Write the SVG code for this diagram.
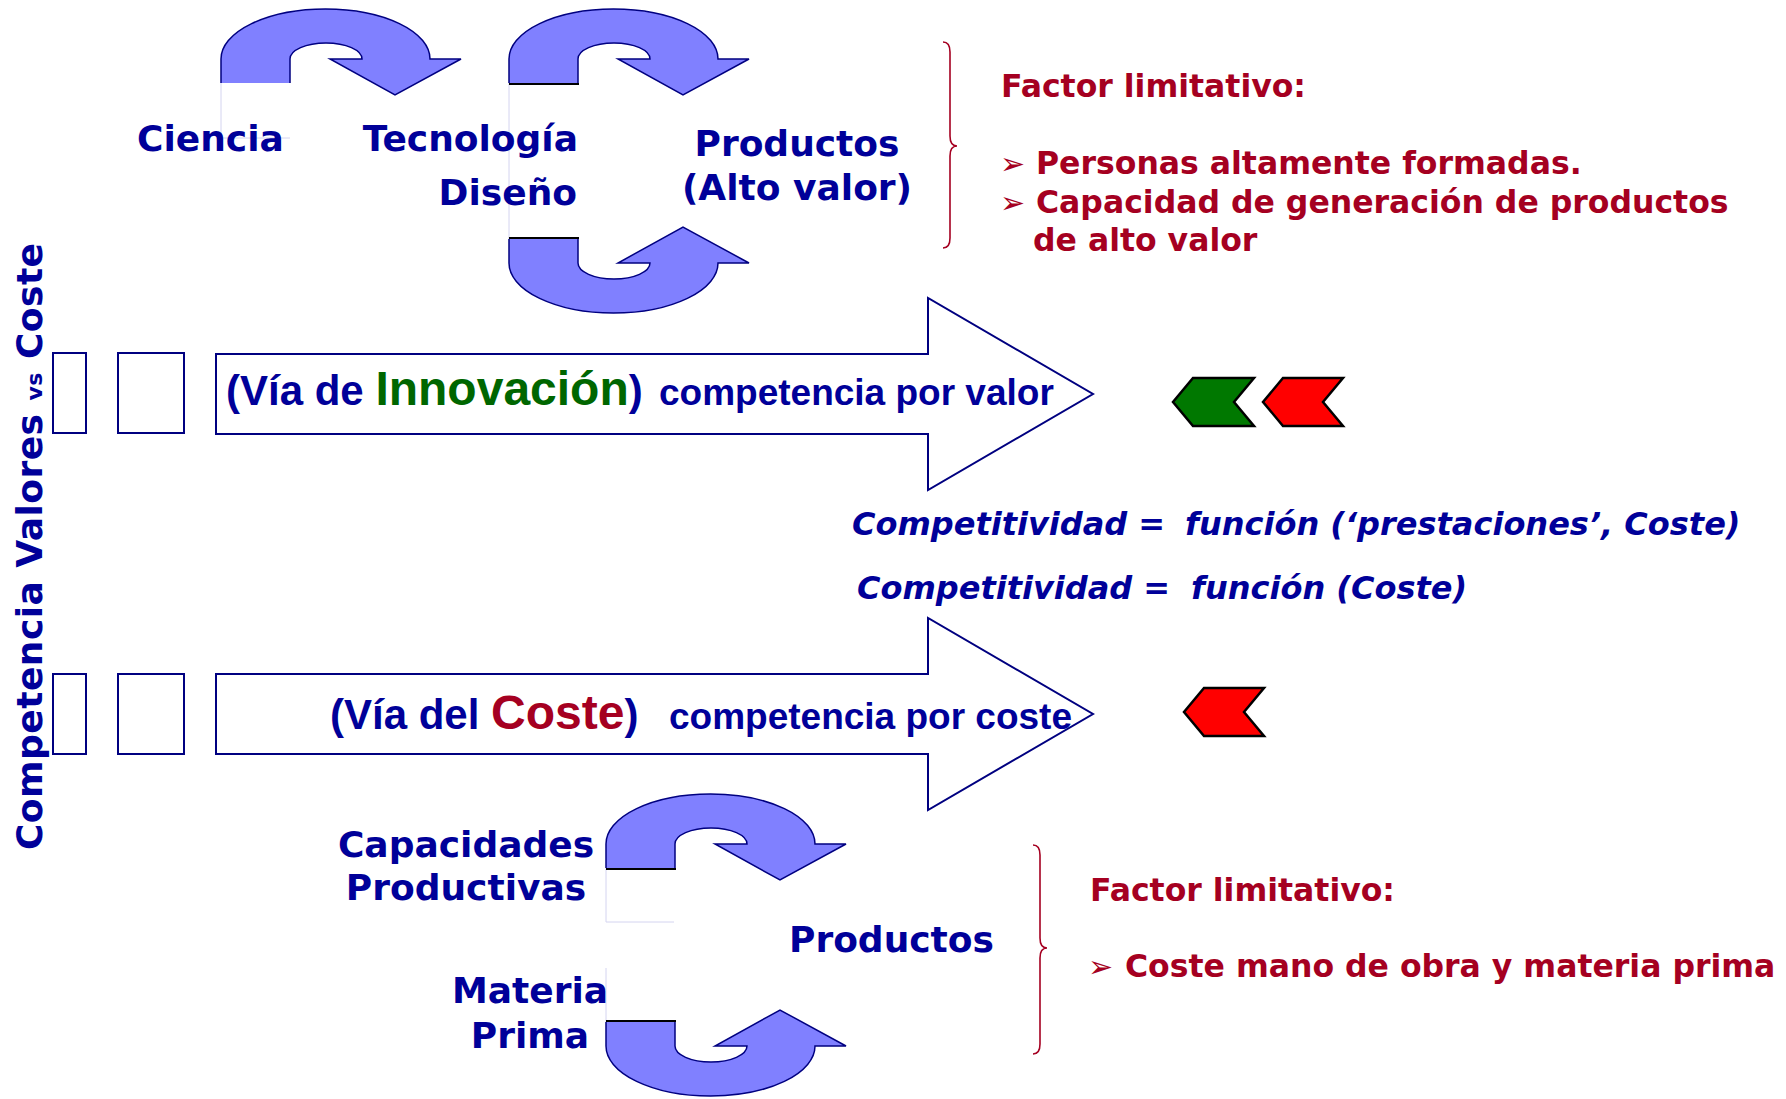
<svg xmlns="http://www.w3.org/2000/svg" width="1786" height="1099" viewBox="0 0 1786 1099">
<style>
.bt{font-family:"DejaVu Sans",Verdana,sans-serif;font-weight:bold;fill:#000099;font-size:36px}
.rt{font-family:"DejaVu Sans",Verdana,sans-serif;font-weight:bold;fill:#A50021;font-size:31.5px}
.it{font-family:"DejaVu Sans",Verdana,sans-serif;font-weight:bold;font-style:italic;fill:#000099;font-size:32px}
.ar{font-family:"Liberation Sans",Arial,sans-serif;font-weight:bold;fill:#000099}
.ut{fill:#8080FF;stroke:#000080;stroke-width:1.5;stroke-linejoin:miter}
.flat{stroke:#000;stroke-width:2}
.faint{stroke:#d4d4f0;stroke-width:1;fill:none}
.big{fill:#fff;stroke:#000080;stroke-width:2}
.brace{fill:none;stroke:#A50021;stroke-width:1.6}
.chev{stroke:#000;stroke-width:2.5;stroke-linejoin:miter}
.bul{font-size:30px}
</style>
<defs>
<path id="uturn" d="M0,0 L0,-24 A104.5,50 0 0 1 209,-24 L240,-24 L174,12 L109,-24 L141,-24 A36,16 0 0 0 69,-24 L69,0"/>
</defs>
<rect width="1786" height="1099" fill="#fff"/>

<g id="connectors">
  <g id="faint-lines">
    <path class="faint" d="M221,83 L221,138 L290,138"/>
    <path class="faint" d="M509,83 L509,239"/>
    <path class="faint" d="M606,868 L606,922 L674,922"/>
    <path class="faint" d="M606,968 L606,1022"/>
  </g>
  <g id="uturn-ciencia-tecnologia">
    <use href="#uturn" class="ut" transform="translate(221,83)"/>
  </g>
  <g id="uturn-tecnologia-productos">
    <use href="#uturn" class="ut" transform="translate(509,83)"/>
    <line class="flat" x1="509" y1="84" x2="579" y2="84"/>
  </g>
  <g id="uturn-diseno-productos">
    <use href="#uturn" class="ut" transform="translate(509,239) scale(1,-1)"/>
    <line class="flat" x1="509" y1="238" x2="579" y2="238"/>
  </g>
  <g id="uturn-capacidades-productos">
    <use href="#uturn" class="ut" transform="translate(606,868)"/>
    <line class="flat" x1="606" y1="869" x2="676" y2="869"/>
  </g>
  <g id="uturn-materia-productos">
    <use href="#uturn" class="ut" transform="translate(606,1022) scale(1,-1)"/>
    <line class="flat" x1="606" y1="1021" x2="676" y2="1021"/>
  </g>
</g>

<g id="node-ciencia"><text class="bt" x="137" y="151">Ciencia</text></g>
<g id="node-tecnologia"><text class="bt" x="578" y="151" text-anchor="end">Tecnología</text><text class="bt" x="577" y="205" text-anchor="end">Diseño</text></g>
<g id="node-productos-alto"><text class="bt" x="797" y="156" text-anchor="middle">Productos</text><text class="bt" x="797" y="200" text-anchor="middle">(Alto valor)</text></g>

<g id="node-factor-top">
  <path class="brace" d="M943,42 Q950,42 950,52 L950,136 Q950,146 957,146 Q950,146 950,156 L950,238 Q950,248 943,248"/>
  <text class="rt" x="1001" y="97">Factor limitativo:</text>
  <text class="rt bul" x="1000" y="174">➢</text>
  <text class="rt" x="1036" y="174">Personas altamente formadas.</text>
  <text class="rt bul" x="1000" y="213">➢</text>
  <text class="rt" x="1036" y="213">Capacidad de generación de productos</text>
  <text class="rt" x="1033" y="251">de alto valor</text>
</g>

<g id="node-vertical-title">
  <text class="bt" font-size="36" transform="translate(42,850) rotate(-90)" textLength="607" lengthAdjust="spacing">Competencia Valores <tspan font-size="22">vs</tspan> Coste</text>
</g>

<g id="node-via-innovacion">
  <rect class="big" x="53" y="353" width="33" height="80"/>
  <rect class="big" x="118" y="353" width="66" height="80"/>
  <polygon class="big" points="216,354 928,354 928,298 1093,394 928,490 928,434 216,434"/>
  <text class="ar" x="226" y="405"><tspan font-size="42">(Vía de </tspan><tspan font-size="48" fill="#006600">Innovación</tspan><tspan font-size="42">)</tspan></text>
  <text class="ar" x="659" y="405" font-size="37">competencia por valor</text>
</g>

<g id="node-chevrons-top">
  <polygon class="chev" fill="#007800" points="1193,378 1254,378 1234,402 1254,426 1193,426 1173,402"/>
  <polygon class="chev" fill="#FF0000" points="1283,378 1343,378 1323,402 1343,426 1283,426 1263,402"/>
</g>

<g id="node-formulas">
  <text class="it" x="852" y="535">Competitividad =<tspan x="1185">función (‘prestaciones’, Coste)</tspan></text>
  <text class="it" x="857" y="599">Competitividad =<tspan x="1191">función (Coste)</tspan></text>
</g>

<g id="node-via-coste">
  <rect class="big" x="53" y="674" width="33" height="80"/>
  <rect class="big" x="118" y="674" width="66" height="80"/>
  <polygon class="big" points="216,674 928,674 928,618 1093,714 928,810 928,754 216,754"/>
  <text class="ar" x="330" y="729"><tspan font-size="42">(Vía del </tspan><tspan font-size="48" fill="#A50021">Coste</tspan><tspan font-size="42">)</tspan></text>
  <text class="ar" x="669" y="729" font-size="37">competencia por coste</text>
</g>

<g id="node-chevron-bottom">
  <polygon class="chev" fill="#FF0000" points="1204,688 1264,688 1244,712 1264,736 1204,736 1184,712"/>
</g>

<g id="node-capacidades"><text class="bt" x="466" y="857" text-anchor="middle">Capacidades</text><text class="bt" x="466" y="900" text-anchor="middle">Productivas</text></g>
<g id="node-productos"><text class="bt" x="789" y="952">Productos</text></g>
<g id="node-materia"><text class="bt" x="530" y="1003" text-anchor="middle">Materia</text><text class="bt" x="530" y="1048" text-anchor="middle">Prima</text></g>

<g id="node-factor-bottom">
  <path class="brace" d="M1033,845 Q1040,845 1040,855 L1040,938 Q1040,948 1047,948 Q1040,948 1040,958 L1040,1044 Q1040,1054 1033,1054"/>
  <text class="rt" x="1090" y="901">Factor limitativo:</text>
  <text class="rt bul" x="1088" y="977">➢</text>
  <text class="rt" x="1125" y="977">Coste mano de obra y materia prima</text>
</g>
</svg>
